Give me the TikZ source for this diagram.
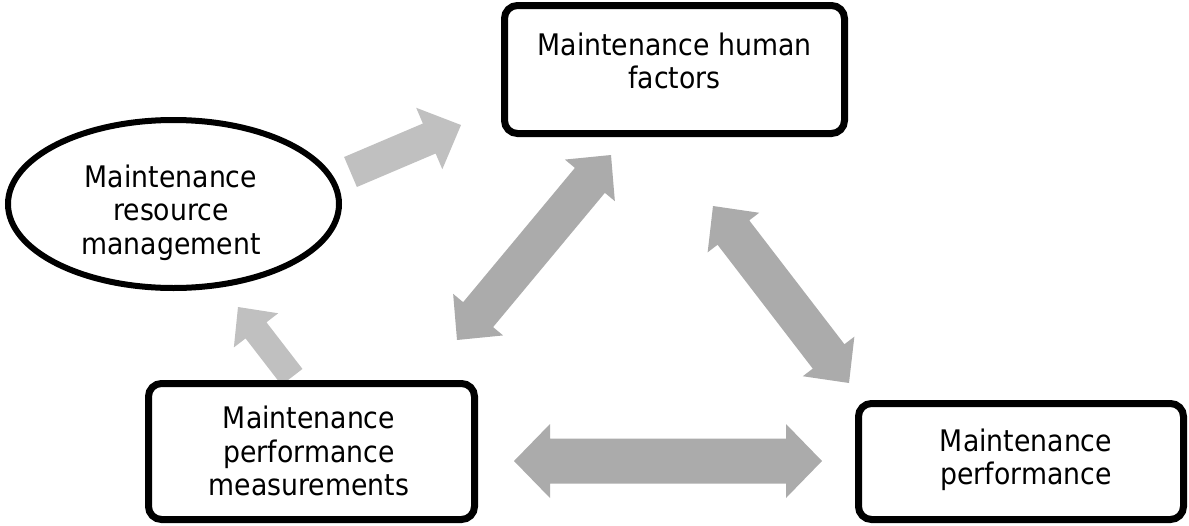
\documentclass[tikz,border=0pt]{standalone}
\usepackage{fontspec}
\setmainfont{DejaVu Sans}[FakeStretch=0.9]
\usetikzlibrary{calc,shapes.geometric,backgrounds}

\definecolor{arrowlight}{RGB}{192,192,192}
\definecolor{arrowdark}{RGB}{171,171,171}

\tikzset{
  box/.style={draw=black, line width=7pt, rounded corners=13pt, fill=white, inner sep=0pt},
  oval/.style={ellipse, draw=black, line width=6pt, fill=white, inner sep=0pt},
  caption/.style={align=center, font=\fontsize{29.7}{33.5}\selectfont, inner sep=0pt},
  lightfill/.style={fill=arrowlight, draw=none},
  darkfill/.style={fill=arrowdark, draw=none},
  % block arrow from tail centre to tip: shaft half width, head half width, head length
  onearrow/.style n args={3}{to path={
     ($(\tikztostart)!#1!90:(\tikztotarget)$)
     -- ($(\tikztotarget)!#3!(\tikztostart)!#1!-90:(\tikztostart)$)
     -- ($(\tikztotarget)!#3!(\tikztostart)!#2!-90:(\tikztostart)$)
     -- (\tikztotarget)
     -- ($(\tikztotarget)!#3!(\tikztostart)!#2!90:(\tikztostart)$)
     -- ($(\tikztotarget)!#3!(\tikztostart)!#1!90:(\tikztostart)$)
     -- ($(\tikztostart)!#1!-90:(\tikztotarget)$)
     -- cycle}},
  % block arrow with a head at both ends, tip to tip
  twoarrow/.style n args={3}{to path={
     -- ($(\tikztostart)!#3!(\tikztotarget)!#2!90:(\tikztotarget)$)
     -- ($(\tikztostart)!#3!(\tikztotarget)!#1!90:(\tikztotarget)$)
     -- ($(\tikztotarget)!#3!(\tikztostart)!#1!-90:(\tikztostart)$)
     -- ($(\tikztotarget)!#3!(\tikztostart)!#2!-90:(\tikztostart)$)
     -- (\tikztotarget)
     -- ($(\tikztotarget)!#3!(\tikztostart)!#2!90:(\tikztostart)$)
     -- ($(\tikztotarget)!#3!(\tikztostart)!#1!90:(\tikztostart)$)
     -- ($(\tikztostart)!#3!(\tikztotarget)!#1!-90:(\tikztotarget)$)
     -- ($(\tikztostart)!#3!(\tikztotarget)!#2!-90:(\tikztotarget)$)
     -- cycle}}
}

\begin{document}
\begin{tikzpicture}[x=1pt, y=-1pt]
\useasboundingbox (0,0) rectangle (1189,525);

% the four elements
\node[box, minimum width=340pt, minimum height=128pt] (human) at (674.5,69.5) {};
\node[caption] (humantext) at (674.5,60.7) {Maintenance human\\factors};

\node[oval, minimum width=331pt, minimum height=168pt] (resource) at (173.5,204) {};
\node[caption] (resourcetext) at (171,212.7) {Maintenance\\resource\\management};

\node[box, minimum width=326pt, minimum height=136pt] (measure) at (311.5,451.5) {};
\node[caption] (measuretext) at (309,451) {Maintenance\\performance\\measurements};

\node[box, minimum width=325pt, minimum height=116pt] (perf) at (1021,461.5) {};
\node[caption] (perftext) at (1026,459.7) {Maintenance\\performance};

% arrow end points
\coordinate (rh-s) at (350.5,172);
\coordinate (rh-t) at (461,125);
\coordinate (mh-s) at (457,340);
\coordinate (mh-t) at (611,155);
\coordinate (hp-s) at (713,206);
\coordinate (hp-t) at (849,383);
\coordinate (mp-s) at (514,461);
\coordinate (mp-t) at (822,461);
\coordinate (mr-s) at (292,377);
\coordinate (mr-t) at (238,307);

\begin{scope}[on background layer]
  \path[lightfill] (rh-s) to[onearrow={16.3pt}{33.4pt}{34.5pt}] (rh-t);
  \path[lightfill] (mr-s) to[onearrow={13.2pt}{28pt}{29.5pt}] (mr-t);
  \path[darkfill] (mh-s) to[twoarrow={19.5pt}{32.5pt}{33pt}] (mh-t);
  \path[darkfill] (hp-s) to[twoarrow={20pt}{32.5pt}{33.5pt}] (hp-t);
  \path[darkfill] (mp-s) to[twoarrow={22.5pt}{37pt}{36pt}] (mp-t);
\end{scope}
\end{tikzpicture}
\end{document}
